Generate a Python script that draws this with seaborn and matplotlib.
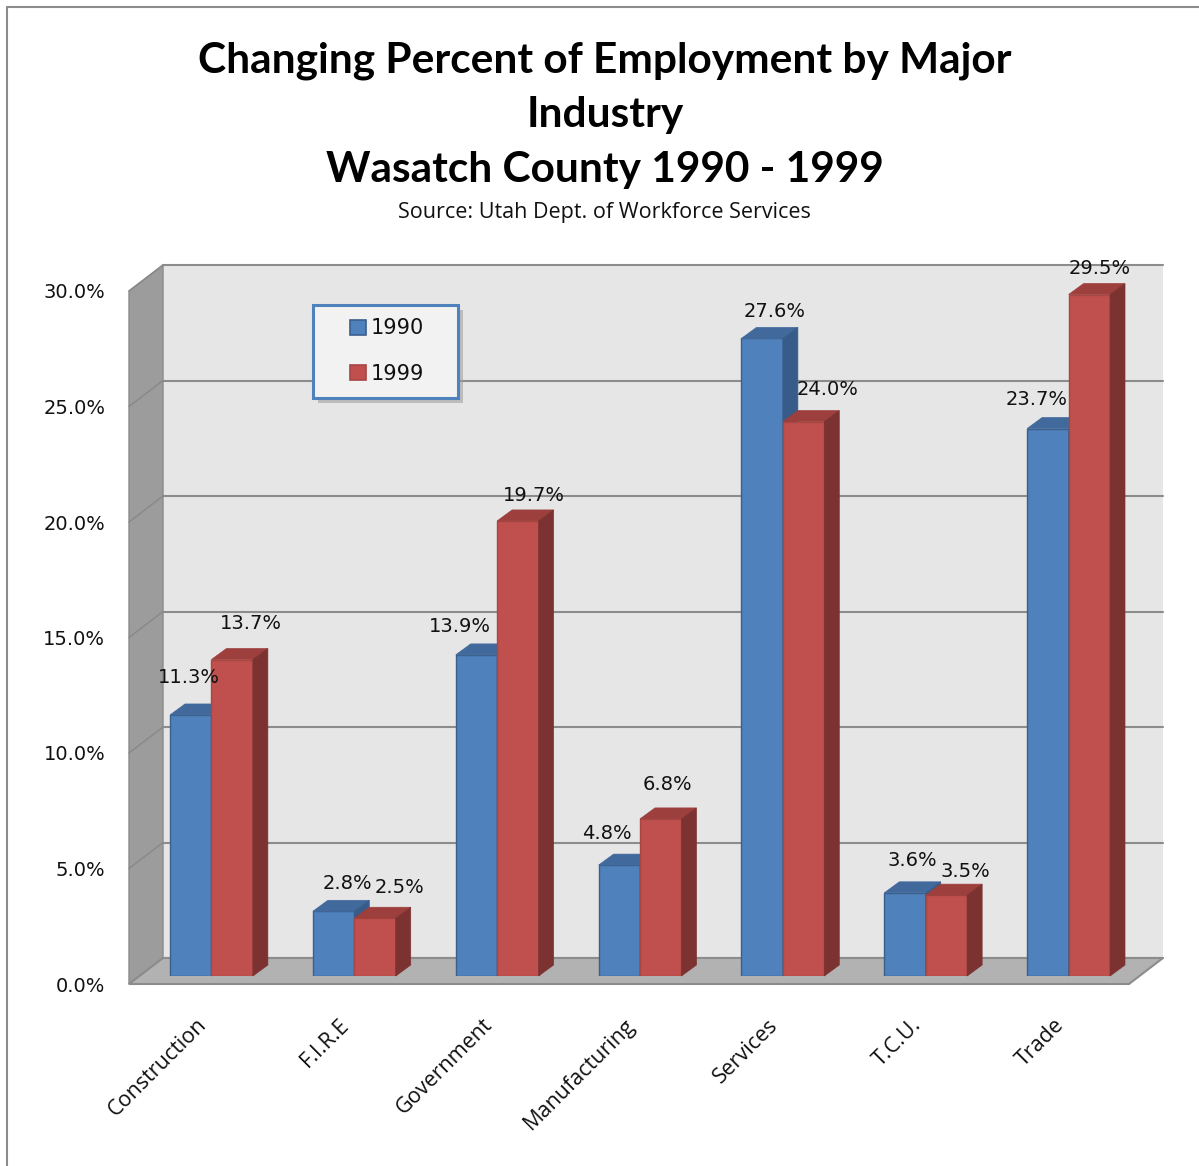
import numpy as np
import pandas as pd
import matplotlib
matplotlib.use("Agg")
import matplotlib.pyplot as plt
import seaborn as sns
from matplotlib.patches import Polygon, Rectangle, Patch
from matplotlib.lines import Line2D
from matplotlib.transforms import ScaledTranslation

# ---- data -----------------------------------------------------------------
industries = ["Construction", "F.I.R.E", "Government", "Manufacturing",
              "Services", "T.C.U.", "Trade"]
years = ["1990", "1999"]
pct_1990 = [11.3, 2.8, 13.9, 4.8, 27.6, 3.6, 23.7]
pct_1999 = [13.7, 2.5, 19.7, 6.8, 24.0, 3.5, 29.5]
y_ticks = [0, 5, 10, 15, 20, 25, 30]

title_lines = ["Changing Percent of Employment by Major",
               "Industry",
               "Wasatch County 1990 - 1999"]
source_note = "Source: Utah Dept. of Workforce Services"

# ---- layout / style -------------------------------------------------------
W, H, DPI = 1199, 1166, 100
face = {"1990": "#4f81bd", "1999": "#c0504d"}
top_col = {"1990": "#41699b", "1999": "#9d3f3c"}
side_col = {"1990": "#385c89", "1999": "#7c3230"}
edge_col = {"1990": "#3b5f8c", "1999": "#a84644"}

# pixel offsets (right, up) of the front edge, back wall and bar depth
FRONT = (-11, -8)
BACK = (23, 18)
DEPTH = (15, 11)

# pixel nudges of the value labels from each bar's top-centre
label_shift = {
    "1990": [(-2, 37), (14, 28), (-17, 28), (-12, 32), (12, 27), (7, 32), (-11, 29)],
    "1999": [(19, 36), (25, 31), (16, 25), (7, 34), (24, 32), (19, 24), (10, 26)],
}

sns.set_theme(style="white")
plt.rcParams["font.family"] = ["DejaVu Sans"]

fig = plt.figure(figsize=(W / DPI, H / DPI), dpi=DPI, facecolor="white")


def fx(px):
    return px / W


def fy(py):
    return 1 - py / H


# axes = plane on which the bar fronts stand
ax = fig.add_axes([fx(140), fy(976), 1000 / W, 693 / H])
ax.set_facecolor("none")

df = pd.DataFrame({
    "Industry": industries * 2,
    "Year": ["1990"] * len(industries) + ["1999"] * len(industries),
    "Percent": pct_1990 + pct_1999,
})
sns.barplot(data=df, x="Industry", y="Percent", hue="Year", order=industries,
            hue_order=years, palette=face, width=0.58, saturation=1,
            legend=False, ax=ax, linewidth=1.0)
bars = [b for b in ax.patches if isinstance(b, Rectangle)]

ax.set_xlim(-0.5, len(industries) - 0.5)
ax.set_ylim(0, 30)
ax.set_xlabel("")
ax.set_ylabel("")
sns.despine(ax=ax, left=True, bottom=True)
ax.grid(False)

p0 = ax.transData.transform((0, 0))
p1 = ax.transData.transform((1, 1))
sx, sy = p1 - p0


def pt(x, y, off=(0, 0)):
    return (x + off[0] / sx, y + off[1] / sy)


xl, xr = -0.5, len(industries) - 0.5
ytop = y_ticks[-1]

# back wall
ax.add_patch(Polygon([pt(xl, 0, BACK), pt(xr, 0, BACK), pt(xr, ytop, BACK),
                      pt(xl, ytop, BACK)], closed=True, fc="#e6e6e6",
                     ec="none", zorder=0.1, clip_on=False))
# left wall
ax.add_patch(Polygon([pt(xl, 0, FRONT), pt(xl, 0, BACK), pt(xl, ytop, BACK),
                      pt(xl, ytop, FRONT)], closed=True, fc="#9c9c9c",
                     ec="#8a8a8a", lw=1, zorder=0.2, clip_on=False))
# gridlines on back and left walls
for v in y_ticks:
    a, b = pt(xl, v, BACK), pt(xr, v, BACK)
    ax.add_line(Line2D([a[0], b[0]], [a[1], b[1]], color="#8c8c8c", lw=1.5,
                       zorder=0.15, clip_on=False))
    c, d = pt(xl, v, FRONT), pt(xl, v, BACK)
    ax.add_line(Line2D([c[0], d[0]], [c[1], d[1]], color="#888888", lw=1,
                       zorder=0.25, clip_on=False))
# floor
ax.add_patch(Polygon([pt(xl, 0, FRONT), pt(xr, 0, FRONT), pt(xr, 0, BACK),
                      pt(xl, 0, BACK)], closed=True, fc="#b2b2b2",
                     ec="#8c8c8c", lw=1.5, zorder=0.3, clip_on=False))

# 3-D faces for every bar
for bar in bars:
    x0, w, h = bar.get_x(), bar.get_width(), bar.get_height()
    x1 = x0 + w
    cx = x0 + w / 2
    idx = int(round(cx))
    yr = "1990" if cx < idx else "1999"
    z = 2 if yr == "1990" else 3
    bar.set_zorder(z)
    bar.set_edgecolor(edge_col[yr])
    ax.add_patch(Polygon([(x0, h), (x1, h), pt(x1, h, DEPTH), pt(x0, h, DEPTH)],
                         closed=True, fc=top_col[yr], ec=top_col[yr], lw=0.5,
                         zorder=z, clip_on=False))
    ax.add_patch(Polygon([(x1, 0), pt(x1, 0, DEPTH), pt(x1, h, DEPTH), (x1, h)],
                         closed=True, fc=side_col[yr], ec=side_col[yr], lw=0.5,
                         zorder=z, clip_on=False))
    dx, dy = label_shift[yr][idx]
    ax.annotate(f"{h:.1f}%", xy=(cx, h), xytext=(dx, dy),
                textcoords="offset pixels", ha="center", va="center",
                fontsize=14, color="#111111", zorder=5,
                annotation_clip=False)

# value axis labels on the front edge
ax.set_yticks(y_ticks)
ax.set_yticklabels([f"{v:.1f}%" for v in y_ticks])
ax.tick_params(axis="y", length=0, pad=25, labelsize=14, labelcolor="#111111")
for lab in ax.get_yticklabels():
    lab.set_transform(lab.get_transform() +
                      ScaledTranslation(0, -8 / DPI, fig.dpi_scale_trans))

# category labels
ax.set_xticks(range(len(industries)))
ax.set_xticklabels(industries, rotation=45, ha="right", va="center",
                   rotation_mode="anchor", fontfamily="Open Sans",
                   fontsize=15.5)
ax.tick_params(axis="x", length=0, pad=33, labelcolor="#111111")
for lab in ax.get_xticklabels():
    lab.set_transform(lab.get_transform() +
                      ScaledTranslation(-8 / DPI, 0, fig.dpi_scale_trans))

# legend box with shadow
ax.add_artist(Rectangle((fx(318), fy(403)), 145 / W, 93 / H,
                        transform=fig.transFigure, fc="#9a9a9a", ec="none",
                        alpha=0.55, zorder=6, clip_on=False))
ax.add_artist(Rectangle((fx(313), fy(398)), 145 / W, 93 / H,
                        transform=fig.transFigure, fc="#f2f2f2",
                        ec="#4f81bd", lw=2.2, zorder=7, clip_on=False))
handles = [Patch(fc=face[y], ec=edge_col[y], lw=1.2, label=y) for y in years]
leg = ax.legend(handles=handles, loc="center", frameon=False,
                bbox_to_anchor=(fx(387), fy(351)),
                bbox_transform=fig.transFigure, fontsize=15,
                handlelength=0.75, handleheight=0.75, handletextpad=0.25,
                labelspacing=1.2, borderpad=0)
leg.set_zorder(8)
for t in leg.get_texts():
    t.set_color("#111111")

# titles
baselines = [72, 127, 182]
for line, yb in zip(title_lines, baselines):
    fig.text(fx(605), fy(yb), line, ha="center", va="baseline",
             fontfamily="Lato", fontweight="bold", fontsize=30.5, color="black")
fig.text(fx(604), fy(218), source_note, ha="center", va="baseline",
         fontfamily="Open Sans", fontsize=15.5, color="#111111")

# outer chart frame
fig.add_artist(Line2D([fx(7), fx(7)], [fy(7), 0], transform=fig.transFigure,
                      color="#8c8c8c", lw=1.5))
fig.add_artist(Line2D([fx(7), 1], [fy(7), fy(7)], transform=fig.transFigure,
                      color="#8c8c8c", lw=1.5))

fig.savefig("out.png", dpi=DPI, facecolor="white")
